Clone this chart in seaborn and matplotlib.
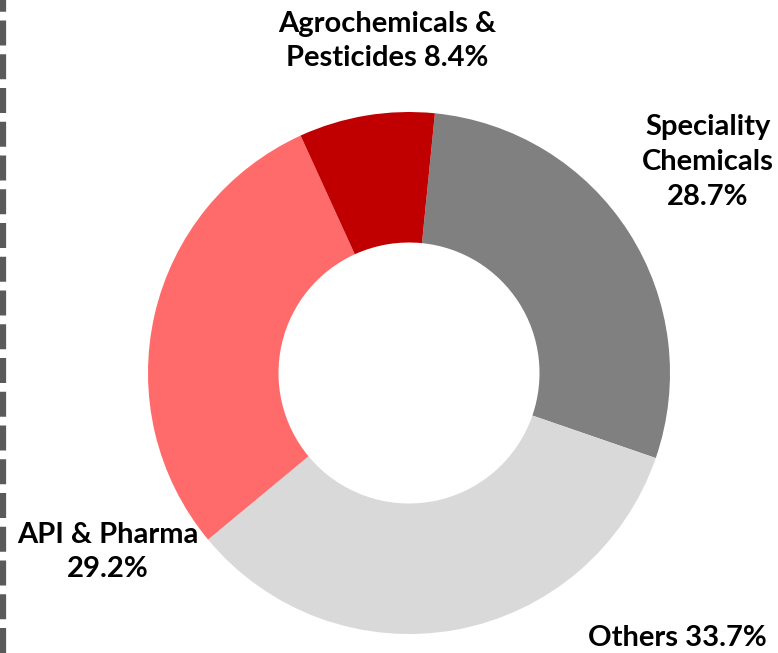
import matplotlib
matplotlib.use("Agg")
import matplotlib.pyplot as plt
import seaborn as sns
from matplotlib.lines import Line2D

sns.set_theme(style="white")
plt.rcParams['font.family'] = ['Lato', 'DejaVu Sans']

categories = ["Speciality\nChemicals", "Others", "API & Pharma", "Agrochemicals &\nPesticides"]
values = [28.7, 33.7, 29.2, 8.4]
label_texts = ["Speciality\nChemicals\n28.7%", "Others 33.7%", "API & Pharma\n29.2%", "Agrochemicals &\nPesticides 8.4%"]
colors = ["#808080", "#D9D9D9", "#FF6B6B", "#C00000"]

W, H = 778, 653
fig = plt.figure(figsize=(W / 100, H / 100), dpi=100)
ax = fig.add_axes([0, 0, 1, 1])

cx, cy, R = 409, H - 373, 261
ax.pie(values, colors=colors, startangle=84.3, counterclock=False,
       center=(cx, cy), radius=R, frame=True,
       wedgeprops=dict(width=R * 0.5, linewidth=0))
ax.set_xlim(0, W)
ax.set_ylim(0, H)
ax.axis("off")

# label positions (pixel coords, y from top)
label_pos = [(708, 162), (677, 638), (108, 552), (387, 41)]
for txt, (x, y) in zip(label_texts, label_pos):
    ax.text(x, H - y, txt, ha="center", va="center", fontsize=21,
            fontweight="bold", color="black", linespacing=1.42)

# dashed separator on the left
ax.add_line(Line2D([3, 3], [0, H], color="#5A5A5A", linewidth=4.5,
                   linestyle=(0, (4.0, 1.4))))

fig.savefig("out.png", dpi=100)
